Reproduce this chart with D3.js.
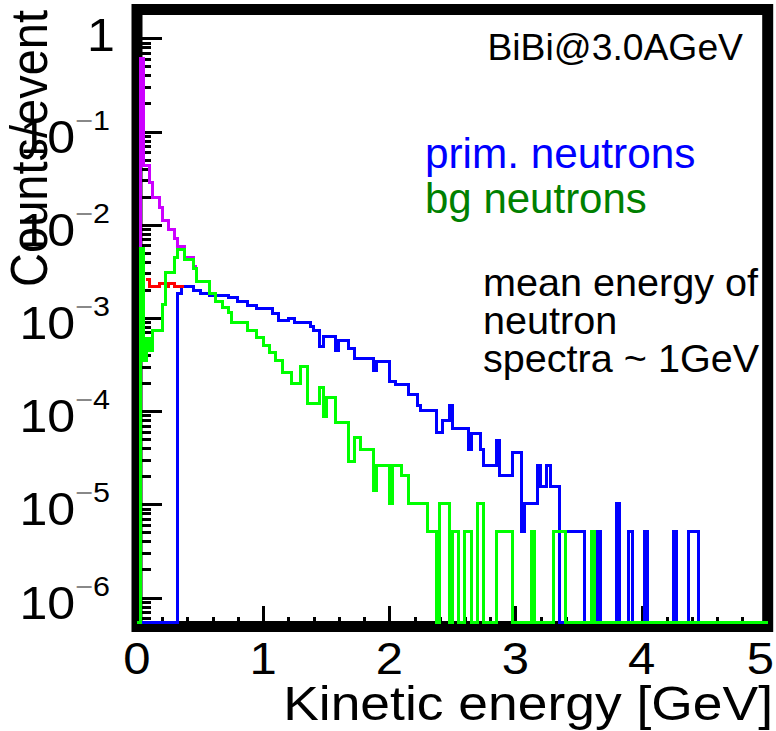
<!DOCTYPE html>
<html><head><meta charset="utf-8">
<script src="https://cdn.jsdelivr.net/npm/d3@7"></script>
<style>html,body{margin:0;padding:0;background:#fff;} svg{display:block;}</style>
</head><body>
<svg id="chart" width="776" height="731"></svg>
<script>
// ---------------- data (counts/event, bin edges in GeV) ----------------
const xTickValues = [0, 1, 2, 3, 4, 5];
const xTickLabels = ["0", "1", "2", "3", "4", "5"];
const yDecadeExponents = [0, -1, -2, -3, -4, -5, -6];

const blueEdges = [0, 0.325, 0.35, 0.45, 0.5, 0.575, 0.725, 0.8, 0.875, 0.95, 1.075, 1.125, 1.2, 1.25, 1.375, 1.4, 1.45, 1.475, 1.575, 1.6, 1.675, 1.725, 1.875, 1.9, 2.0, 2.05, 2.15, 2.225, 2.25, 2.375, 2.425, 2.475, 2.5, 2.625, 2.65, 2.725, 2.75, 2.85, 2.875, 2.975, 3.05, 3.075, 3.175, 3.2, 3.25, 3.275, 3.35, 3.4, 3.55, 3.65, 3.675, 3.8, 3.825, 3.9, 3.925, 4.025, 4.05, 4.25, 4.275, 4.375, 4.45, 5.0];
const blueValues = [0, 1.85e-3, 2.15e-3, 1.95e-3, 1.85e-3, 1.76e-3, 1.64e-3, 1.5e-3, 1.36e-3, 1.26e-3, 1.11e-3, 9.3e-4, 9.9e-4, 8.9e-4, 8.0e-4, 7.4e-4, 4.9e-4, 6.4e-4, 4.5e-4, 5.7e-4, 4.7e-4, 3.7e-4, 2.7e-4, 3.4e-4, 2.1e-4, 1.95e-4, 1.5e-4, 1.15e-4, 1.02e-4, 5.9e-5, 7.9e-5, 1.15e-4, 6.5e-5, 3.9e-5, 5.8e-5, 3.9e-5, 2.6e-5, 4.9e-5, 2.05e-5, 3.6e-5, 5.15e-6, 1.03e-5, 2.6e-5, 1.55e-5, 2.6e-5, 1.55e-5, 0, 5.15e-6, 0, 5.15e-6, 0, 1.03e-5, 0, 5.15e-6, 0, 5.15e-6, 0, 5.15e-6, 0, 5.15e-6, 0];

const greenEdges = [0, 0.025, 0.05, 0.075, 0.1, 0.125, 0.2, 0.225, 0.3, 0.325, 0.375, 0.45, 0.475, 0.575, 0.625, 0.675, 0.725, 0.75, 0.875, 0.95, 1.0, 1.05, 1.1, 1.15, 1.225, 1.3, 1.35, 1.45, 1.475, 1.5, 1.575, 1.675, 1.725, 1.775, 1.875, 1.9, 2.0, 2.025, 2.1, 2.15, 2.3, 2.375, 2.4, 2.475, 2.5, 2.55, 2.6, 2.65, 2.7, 2.75, 2.85, 2.975, 3.125, 3.15, 3.3, 3.4, 3.6, 3.625, 5.0];
const greenValues = [0, 5.6e-3, 3.5e-4, 6.0e-4, 4.5e-4, 7.4e-4, 1.4e-3, 3.1e-3, 4.4e-3, 5.45e-3, 4.2e-3, 3.4e-3, 2.45e-3, 1.85e-3, 1.5e-3, 1.3e-3, 1.15e-3, 9.0e-4, 7.4e-4, 6.2e-4, 5.1e-4, 4.3e-4, 3.5e-4, 2.6e-4, 2.0e-4, 3.0e-4, 1.2e-4, 1.8e-4, 8.8e-5, 1.4e-4, 7.5e-5, 2.9e-5, 5.2e-5, 3.9e-5, 1.4e-5, 2.6e-5, 1.03e-5, 2.6e-5, 2.06e-5, 1.03e-5, 5.15e-6, 0, 1.03e-5, 0, 5.15e-6, 0, 5.15e-6, 0, 1.03e-5, 0, 5.15e-6, 0, 5.15e-6, 0, 5.15e-6, 0, 5.15e-6, 0];

const magentaEdges = [0, 0.025, 0.05, 0.1, 0.125, 0.175, 0.2, 0.25, 0.3, 0.325, 0.375, 0.45, 0.475];
const magentaValues = [0, 0.61, 0.043, 0.0286, 0.0198, 0.0155, 0.0112, 0.009, 0.0072, 0.0058, 0.0044, 0.0036];

const redEdges = [0.075, 0.1, 0.175, 0.225, 0.25, 0.3, 0.375];
const redValues = [2.6e-3, 2.15e-3, 2.35e-3, 2.15e-3, 2.35e-3, 2.15e-3];

const zeroLevel = 5.4e-7;   // where empty bins are drawn (bottom of frame)

// ---------------- setup ----------------
const svg = d3.select("#chart");
const FONT = "'Liberation Sans', Arial, Helvetica, sans-serif";
const SX = 1.09; // horizontal stretch of the ROOT canvas texts

const x = d3.scaleLinear().domain([0, 5]).range([137, 767.7]);
const y = d3.scaleLog().domain([4.89e-7, 2.04]).range([626.5, 9.5]);

// frame
svg.append("rect")
  .attr("x", x(0)).attr("y", y(2.04))
  .attr("width", x(5) - x(0)).attr("height", y(4.89e-7) - y(2.04))
  .attr("fill", "none").attr("stroke", "#000").attr("stroke-width", 11);

// y ticks
const yMajor = yDecadeExponents.map(e => Math.pow(10, e));
const yMinor = [];
[-7, -6, -5, -4, -3, -2, -1, 0].forEach(e => {
  for (let m = 2; m <= 9; m++) {
    const v = m * Math.pow(10, e);
    if (v > 4.89e-7 && v < 2.04) yMinor.push(v);
  }
});
function styleAxis(g) {
  g.select(".domain").remove();
  g.selectAll("line").attr("stroke", "#000").attr("stroke-width", 3).attr("shape-rendering", "crispEdges");
  g.selectAll("text").remove();
}
svg.append("g").attr("transform", `translate(${x(0)},0)`)
  .call(d3.axisLeft(y).tickValues(yMajor).tickSize(-25).tickFormat(""))
  .call(styleAxis);
svg.append("g").attr("transform", `translate(${x(0)},0)`)
  .call(d3.axisLeft(y).tickValues(yMinor).tickSize(-14).tickFormat(""))
  .call(styleAxis);

// x ticks
const xMinor = d3.range(0.2, 5, 0.2).filter(v => Math.abs(v - Math.round(v)) > 1e-6);
svg.append("g").attr("transform", `translate(0,${y(4.89e-7)})`)
  .call(d3.axisBottom(x).tickValues(xTickValues).tickSize(-20.5).tickFormat(""))
  .call(styleAxis);
svg.append("g").attr("transform", `translate(0,${y(4.89e-7)})`)
  .call(d3.axisBottom(x).tickValues(xMinor).tickSize(-10).tickFormat(""))
  .call(styleAxis);

// ---------------- histograms ----------------
const line = d3.line()
  .x(d => x(d[0]))
  .y(d => y(Math.max(d[1], zeroLevel)))
  .curve(d3.curveStepAfter);

function histPoints(edges, values) {
  return edges.map((e, i) => [e, values[Math.min(i, values.length - 1)]]);
}
const series = [
  {edges: magentaEdges, values: magentaValues, color: "#cc00ff"},
  {edges: blueEdges, values: blueValues, color: "#0000ff"},
  {edges: redEdges, values: redValues, color: "#ff0000"},
  {edges: greenEdges, values: greenValues, color: "#00ff00"}
];
series.forEach(s => {
  svg.append("path")
    .datum(histPoints(s.edges, s.values))
    .attr("d", line)
    .attr("fill", "none")
    .attr("stroke", s.color)
    .attr("stroke-width", 3)
    .attr("stroke-linejoin", "miter")
    .attr("shape-rendering", "crispEdges");
});

// ---------------- axis labels ----------------
yDecadeExponents.forEach(e => {
  const ty = y(Math.pow(10, e));
  if (e === 0) {
    svg.append("g").attr("transform", `translate(115,${ty}) scale(${SX},1)`)
      .append("text").attr("text-anchor", "end").attr("y", 13)
      .attr("font-family", FONT).attr("font-size", 46).attr("fill", "#000").text("1");
  } else {
    const t = svg.append("g").attr("transform", `translate(110,${ty}) scale(${SX},1)`)
      .append("text").attr("text-anchor", "end").attr("y", 21)
      .attr("font-family", FONT).attr("font-size", 46).attr("fill", "#000");
    t.append("tspan").text("10");
    t.append("tspan").attr("font-size", 28).attr("dy", -23).attr("fill", "#888").text("\u2212");
    t.append("tspan").attr("font-size", 28).text(String(-e));
  }
});

xTickValues.forEach((v, i) => {
  const last = i === xTickValues.length - 1;
  svg.append("g").attr("transform", `translate(${last ? 774 : x(v)},674) scale(${SX},1)`)
    .append("text").attr("text-anchor", last ? "end" : "middle")
    .attr("font-family", FONT).attr("font-size", 45).attr("fill", "#000")
    .text(xTickLabels[i]);
});

// axis titles
svg.append("g").attr("transform", `translate(773,720) scale(${SX},1)`)
  .append("text").attr("text-anchor", "end")
  .attr("font-family", FONT).attr("font-size", 49).attr("fill", "#000")
  .text("Kinetic energy [GeV]");

svg.append("g").attr("transform", `translate(47,10) scale(${SX},1) rotate(-90)`)
  .append("text").attr("text-anchor", "end")
  .attr("font-family", FONT).attr("font-size", 47).attr("fill", "#000")
  .text("Counts/event");

// ---------------- annotations ----------------
svg.append("text").attr("x", 743).attr("y", 60).attr("text-anchor", "end")
  .attr("font-family", FONT).attr("font-size", 37.3).attr("fill", "#000")
  .text("BiBi@3.0AGeV");
svg.append("text").attr("x", 425).attr("y", 168)
  .attr("font-family", FONT).attr("font-size", 42.3).attr("fill", "#0000ff")
  .text("prim. neutrons");
svg.append("text").attr("x", 425).attr("y", 213)
  .attr("font-family", FONT).attr("font-size", 42).attr("fill", "#008000")
  .text("bg neutrons");
const noteLines = ["mean energy of", "neutron", "spectra ~ 1GeV"];
const noteBaselines = [296, 334, 372];
noteLines.forEach((s, i) => {
  svg.append("text").attr("x", 483).attr("y", noteBaselines[i])
    .attr("font-family", FONT).attr("font-size", 39.6).attr("fill", "#000")
    .text(s);
});
</script>
</body></html>
